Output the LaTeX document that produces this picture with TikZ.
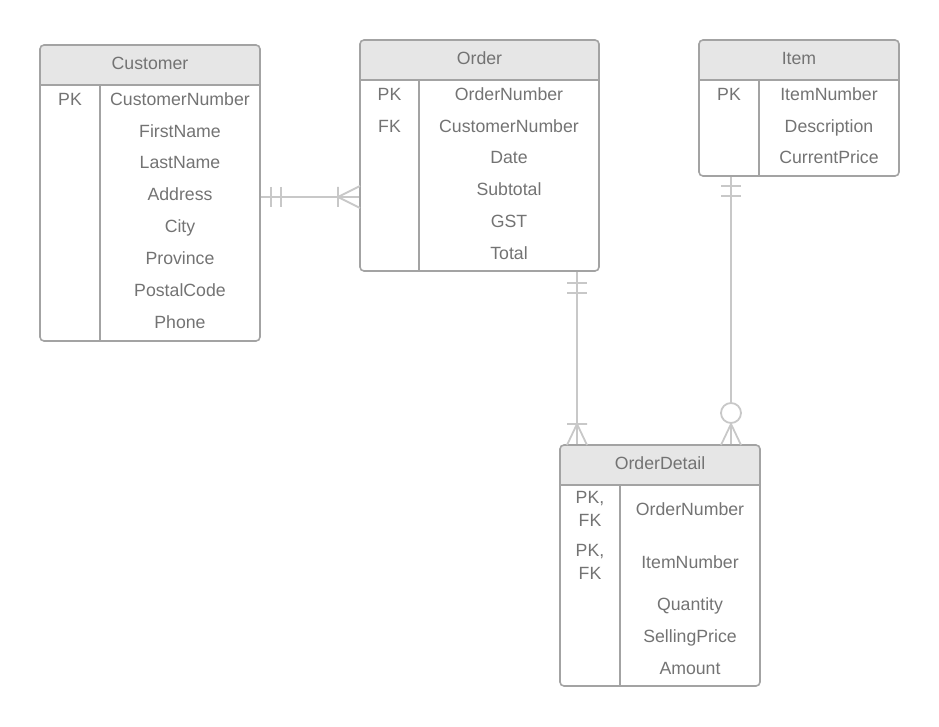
\documentclass[tikz,border=0pt]{standalone}
\usepackage{fontspec}
\setmainfont{Liberation Sans}
\usetikzlibrary{fit}
\definecolor{bordercol}{HTML}{A3A3A3}
\definecolor{headcol}{HTML}{E6E6E6}
\definecolor{txtcol}{HTML}{737373}
\definecolor{conncol}{HTML}{C8C8C8}
\tikzset{
  txt/.style={text=txtcol, inner sep=0pt, text height=12.7pt, text depth=0pt, font=\fontsize{17.7}{23}\selectfont},
  keytxt/.style={txt, align=center},
  tblline/.style={draw=bordercol, line width=1.6pt},
  conn/.style={draw=conncol, line width=1.8pt},
}
\newcommand\erbox[8]{%
  \fill[headcol] (#2,#6) [rounded corners=4pt] -- (#2,#3) -- (#4,#3) [sharp corners] -- (#4,#6) -- cycle;
  \node[fit={(#2,#3) (#4,#5)}, inner sep=0pt, tblline, rounded corners=4pt] (#1) {};
  \draw[tblline] (#2,#6) -- (#4,#6) (#7,#6) -- (#7,#5);
  \node[txt] (#1-title) at ({(#2+#4)/2},{(#3+#6)/2-2}) {#8};
}
\begin{document}
\begin{tikzpicture}[x=1pt,y=-1pt]
\useasboundingbox (0,0) rectangle (939,727);
% Customer
\erbox{customer}{40}{45}{260}{341}{85}{100}{Customer}
\node[txt] (c-k1) at (70,99) {PK};
\node[txt] (c-f1) at (180,99) {CustomerNumber};
\node[txt] (c-f2) at (180,131) {FirstName};
\node[txt] (c-f3) at (180,162) {LastName};
\node[txt] (c-f4) at (180,194) {Address};
\node[txt] (c-f5) at (180,226) {City};
\node[txt] (c-f6) at (180,258) {Province};
\node[txt] (c-f7) at (180,290) {PostalCode};
\node[txt] (c-f8) at (180,322) {Phone};
% Order
\erbox{order}{360}{40}{599}{271}{80}{419}{Order}
\node[txt] (o-k1) at (389.5,94) {PK};
\node[txt] (o-k2) at (389.5,126) {FK};
\node[txt] (o-f1) at (509,94) {OrderNumber};
\node[txt] (o-f2) at (509,126) {CustomerNumber};
\node[txt] (o-f3) at (509,157) {Date};
\node[txt] (o-f4) at (509,189) {Subtotal};
\node[txt] (o-f5) at (509,221) {GST};
\node[txt] (o-f6) at (509,253) {Total};
% Item
\erbox{item}{699}{40}{899}{176}{80}{759}{Item}
\node[txt] (i-k1) at (729,94) {PK};
\node[txt] (i-f1) at (829,94) {ItemNumber};
\node[txt] (i-f2) at (829,126) {Description};
\node[txt] (i-f3) at (829,157) {CurrentPrice};
% OrderDetail
\erbox{od}{560}{445}{760}{686}{485}{620}{OrderDetail}
\node[keytxt] (d-k1) at (590,520.5) {PK,\\FK};
\node[keytxt] (d-k2) at (590,573.5) {PK,\\FK};
\node[txt] (d-f1) at (690,509) {OrderNumber};
\node[txt] (d-f2) at (690,562) {ItemNumber};
\node[txt] (d-f3) at (690,604) {Quantity};
\node[txt] (d-f4) at (690,636) {SellingPrice};
\node[txt] (d-f5) at (690,668) {Amount};
% connector endpoints
\coordinate (a1) at (customer.east |- 0,197);
\coordinate (a2) at (order.west |- 0,197);
\coordinate (b1) at (order.south -| 577,0);
\coordinate (b2) at (od.north -| 577,0);
\coordinate (e1) at (item.south -| 731,0);
\coordinate (e2) at (od.north -| 731,0);
% Customer - Order
\draw[conn] (a1) -- (a2);
\draw[conn] (271,187) -- (271,207) (281,187) -- (281,207);
\draw[conn] (338,187) -- (338,207) (338,197) -- (360,186) (338,197) -- (360,208);
% Order - OrderDetail
\draw[conn] (b1) -- (b2);
\draw[conn] (567,283) -- (587,283) (567,293) -- (587,293);
\draw[conn] (567,424) -- (587,424) (577,424) -- (567,445) (577,424) -- (587,445);
% Item - OrderDetail
\draw[conn] (e1) -- (731,403);
\draw[conn] (721,186) -- (741,186) (721,196) -- (741,196);
\draw[conn] (731,413) circle (10);
\draw[conn] (731,423) -- (e2) (731,424) -- (721,445) (731,424) -- (741,445);
\end{tikzpicture}
\end{document}
